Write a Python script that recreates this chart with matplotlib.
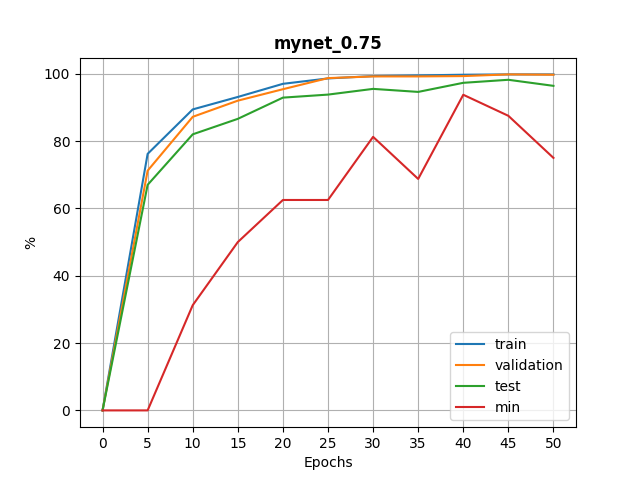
import matplotlib
matplotlib.use("Agg")
import matplotlib.pyplot as plt

epochs = [0, 5, 10, 15, 20, 25, 30, 35, 40, 45, 50]
train = [0, 76.2, 89.4, 93.1, 97.0, 98.6, 99.3, 99.5, 99.7, 99.8, 99.8]
validation = [0, 71.2, 87.2, 92.0, 95.4, 98.7, 99.2, 99.2, 99.3, 99.8, 99.7]
test = [0, 67.0, 82.0, 86.6, 92.9, 93.8, 95.5, 94.6, 97.3, 98.2, 96.4]
minimum = [0, 0, 31.25, 50.0, 62.5, 62.5, 81.25, 68.75, 93.75, 87.5, 75.0]

plt.figure(figsize=(6.4, 4.8), dpi=100)
plt.plot(epochs, train, label="train")
plt.plot(epochs, validation, label="validation")
plt.plot(epochs, test, label="test")
plt.plot(epochs, minimum, label="min")
plt.xticks(range(0, 51, 5))
plt.grid(True)
plt.legend(loc="lower right")
plt.xlabel("Epochs")
plt.ylabel("%")
plt.title("mynet_0.75", fontweight="bold")
plt.savefig("out.png")
plt.close()
